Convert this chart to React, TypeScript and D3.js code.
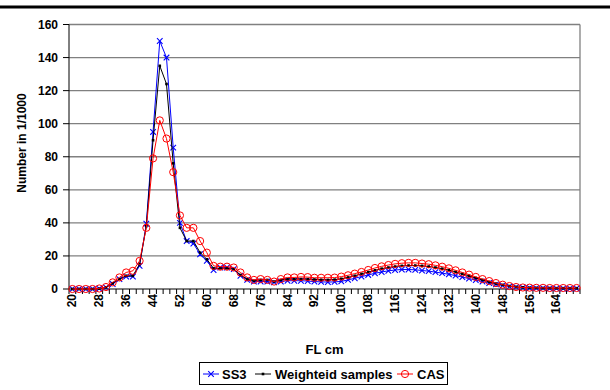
import React from "react";
import * as d3 from "d3";

// length classes, 2 cm wide, 20..170
const lengths = d3.range(20, 171, 2);

const ss3 = [
  0, 0, 0, 0, 0.2, 1, 3, 6, 7.5, 7.5, 14, 39.5, 95, 150, 140, 85.5, 40, 29, 27.5, 21,
  17, 11.5, 13, 13, 12, 8, 5.5, 4.5, 4.5, 4.5, 4, 4.5, 5, 5, 5, 4.8, 4.5, 4.3, 4.2, 4.3,
  4.6, 5.5, 6.5, 7.5, 8.5, 9.5, 10.3, 11, 11.5, 11.8, 11.8, 11.6, 11.2, 10.8, 10.2, 9.6,
  8.9, 8.1, 7.2, 6.3, 5.4, 4.5, 3.6, 2.8, 2.1, 1.5, 1.1, 0.8, 0.6, 0.5, 0.5, 0.4, 0.4,
  0.3, 0.3, 0.3,
];

const weighted = [
  0, 0, 0, 0, 0.2, 1, 3.5, 6, 8, 8, 15, 38, 90, 135, 124, 76, 37, 29, 29, 22, 18, 12.5,
  12.5, 12.5, 12, 8.5, 6, 5, 5.5, 5.5, 4.5, 5.5, 6, 6, 6, 6, 5.8, 5.6, 5.5, 5.7, 6.2, 7,
  8, 9.2, 10.3, 11.3, 12.3, 13, 13.6, 14, 14.2, 14.2, 14, 13.6, 13, 12.3, 11.4, 10.4, 9.2,
  8, 6.7, 5.5, 4.3, 3.3, 2.5, 1.8, 1.3, 1, 0.8, 0.7, 0.6, 0.6, 0.5, 0.5, 0.5, 0.5,
];

const cas = [
  0, 0, 0, 0, 0.3, 1.2, 4, 7, 10, 11, 17, 37, 79, 102, 91, 70.7, 44.5, 37, 37, 29, 22,
  14, 13.5, 13.5, 13, 10, 7, 5.5, 6, 5.5, 4.5, 6, 7, 7, 7.3, 7.2, 6.8, 6.8, 6.8, 6.9, 7.5,
  8.3, 9.3, 10.3, 11.5, 12.7, 13.7, 14.5, 15.2, 15.6, 15.8, 15.8, 15.4, 15, 14.3, 13.5,
  12.5, 11.3, 10, 8.7, 7.3, 6, 4.8, 3.6, 2.6, 1.8, 1.2, 0.9, 0.8, 0.7, 0.7, 0.6, 0.6, 0.6,
  0.6, 0.6,
];

const yTicks = [0, 20, 40, 60, 80, 100, 120, 140, 160];

const W = 610;
const H = 390;
const PLOT = { left: 69, right: 580, top: 24.5, bottom: 289 };
const FONT = "Arial, 'Liberation Sans', sans-serif";

type Marker = "x" | "dot" | "circle";

function MarkerShape({ kind, cx, cy, color }: { kind: Marker; cx: number; cy: number; color: string }) {
  if (kind === "x") {
    const s = 2.8;
    return (
      <path
        d={`M${cx - s},${cy - s}L${cx + s},${cy + s}M${cx - s},${cy + s}L${cx + s},${cy - s}`}
        stroke={color}
        strokeWidth={1.1}
        fill="none"
      />
    );
  }
  if (kind === "dot") {
    return <rect x={cx - 1.3} y={cy - 1.3} width={2.6} height={2.6} fill={color} />;
  }
  return <circle cx={cx} cy={cy} r={3.6} fill="none" stroke={color} strokeWidth={1} />;
}

export default function App() {
  const x = d3.scaleBand<number>().domain(lengths).range([PLOT.left, PLOT.right]).padding(0);
  const y = d3.scaleLinear().domain([0, 160]).range([PLOT.bottom, PLOT.top]);
  const cx = (c: number) => (x(c) || 0) + x.bandwidth() / 2;

  const line = d3
    .line<number>()
    .x((_, i) => cx(lengths[i]))
    .y((d) => y(d));

  const series: { name: string; values: number[]; color: string; marker: Marker }[] = [
    { name: "SS3", values: ss3, color: "#0000ff", marker: "x" },
    { name: "Weighteid samples", values: weighted, color: "#000000", marker: "dot" },
    { name: "CAS", values: cas, color: "#ff0000", marker: "circle" },
  ];

  const tickPositions = [...lengths.map((c) => x(c) || 0), PLOT.right];
  const labelled = lengths.filter((_, i) => i % 4 === 0);

  // legend layout
  const legend = [
    { ...series[0], lx: 203, tx: 222 },
    { ...series[1], lx: 255, tx: 275 },
    { ...series[2], lx: 397, tx: 417 },
  ];

  return (
    <svg
      width={W}
      height={H}
      style={{ position: "absolute", left: 0, top: 0, background: "#fff" }}
      fontFamily={FONT}
    >
      <rect width={W} height={H} fill="#fff" />
      <line x1={0} x2={W} y1={7} y2={7} stroke="#000" strokeWidth={3} />

      {/* gridlines */}
      {yTicks.slice(1).map((t) => (
        <line key={t} x1={PLOT.left} x2={PLOT.right} y1={y(t)} y2={y(t)} stroke="#808080" strokeWidth={1.3} />
      ))}
      <line x1={PLOT.right} x2={PLOT.right} y1={PLOT.top} y2={PLOT.bottom} stroke="#808080" strokeWidth={1.3} />

      {/* y axis */}
      <line x1={PLOT.left} x2={PLOT.left} y1={PLOT.top} y2={PLOT.bottom} stroke="#000" strokeWidth={1} />
      {yTicks.map((t) => (
        <g key={t}>
          <line x1={PLOT.left - 6} x2={PLOT.left} y1={y(t)} y2={y(t)} stroke="#000" />
          <text
            x={58}
            y={y(t)}
            textAnchor="end"
            dominantBaseline="central"
            fontSize={12}
            fontWeight="bold"
          >
            {t}
          </text>
        </g>
      ))}
      <text
        transform={`translate(22,143) rotate(-90)`}
        textAnchor="middle"
        dominantBaseline="central"
        fontSize={12}
        fontWeight="bold"
      >
        Number in 1/1000
      </text>

      {/* x axis */}
      <line x1={PLOT.left} x2={PLOT.right} y1={PLOT.bottom} y2={PLOT.bottom} stroke="#000" strokeWidth={1} />
      {tickPositions.map((p, i) => (
        <line key={i} x1={p} x2={p} y1={PLOT.bottom} y2={PLOT.bottom + 5} stroke="#000" />
      ))}
      {labelled.map((c) => (
        <text
          key={c}
          transform={`translate(${cx(c)},${PLOT.bottom + 5}) rotate(-90)`}
          textAnchor="end"
          dominantBaseline="central"
          fontSize={12}
          fontWeight="bold"
        >
          {c}
        </text>
      ))}
      <text x={(PLOT.left + PLOT.right) / 2} y={349} textAnchor="middle" dominantBaseline="central" fontSize={13} fontWeight="bold">
        FL cm
      </text>

      {/* series */}
      {series.map((s) => (
        <g key={s.name}>
          <path d={line(s.values) || ""} fill="none" stroke={s.color} strokeWidth={1} />
          {s.values.map((v, i) => (
            <MarkerShape key={i} kind={s.marker} cx={cx(lengths[i])} cy={y(v)} color={s.color} />
          ))}
        </g>
      ))}

      {/* legend */}
      <rect x={199.5} y={362.5} width={248} height={22} fill="#fff" stroke="#000" strokeWidth={1} />
      {legend.map((l) => (
        <g key={l.name}>
          <line x1={l.lx} x2={l.lx + 16} y1={374} y2={374} stroke={l.color} strokeWidth={1} />
          <MarkerShape kind={l.marker} cx={l.lx + 8} cy={374} color={l.color} />
          <text x={l.tx} y={374} dominantBaseline="central" fontSize={13} fontWeight="bold">
            {l.name}
          </text>
        </g>
      ))}
    </svg>
  );
}
